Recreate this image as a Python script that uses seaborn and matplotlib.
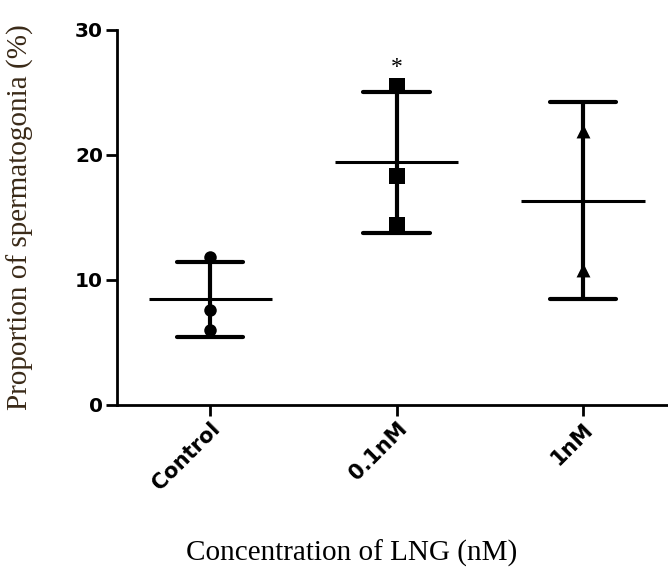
import matplotlib
matplotlib.use("Agg")
import matplotlib.pyplot as plt
import matplotlib.transforms as mtransforms
import seaborn as sns
import pandas as pd

categories = ["Control", "0.1nM", "1nM"]
control_vals = [11.8, 7.6, 6.0]
nm01_vals = [25.5, 18.3, 14.4]
nm1_vals = [21.9, 10.8]
markers = ["o", "s", "^"]
yticks = [0, 10, 20, 30]

df = pd.DataFrame({
    "group": ["Control"] * len(control_vals) + ["0.1nM"] * len(nm01_vals) + ["1nM"] * len(nm1_vals),
    "value": control_vals + nm01_vals + nm1_vals,
})

sns.set_theme(style="ticks")
fig = plt.figure(figsize=(6.68, 5.76), dpi=100)
ax = fig.add_axes([0.175, 0.297, 0.825, 0.651])

# SD error bars with caps
sns.pointplot(data=df, x="group", y="value", order=categories, errorbar="sd",
              capsize=0.355, linestyle="none", marker="", color="black",
              err_kws={"linewidth": 3.0}, ax=ax)

# individual points
for cat, mk, sz in zip(categories, markers, [9, 11, 10]):
    sub = df[df["group"] == cat]
    sns.stripplot(data=sub, x="group", y="value", order=categories, jitter=False,
                  marker=mk, size=sz, color="black", linewidth=0, ax=ax)

# mean lines
means = df.groupby("group")["value"].mean().reindex(categories)
for i, m in enumerate(means):
    ax.hlines(m, i - 0.33, i + 0.33, color="black", linewidth=2.2)

# significance star
ax.text(1, 27.0, "*", ha="center", va="center", fontsize=17, family="Liberation Serif",
        color="black")

ax.set_ylim(0, 30)
ax.set_xlim(-0.5, 2.456)
ax.set_yticks(yticks)
ax.set_yticklabels([str(t) for t in yticks], fontsize=14.5, fontweight="heavy",
                   family="DejaVu Sans", color="black")
ax.set_xticks(range(len(categories)))
ax.set_xticklabels(categories, rotation=45, ha="right", rotation_mode="anchor",
                   fontsize=15, fontweight="heavy", family="DejaVu Sans", color="black")
offset = mtransforms.ScaledTranslation(10 / 100, -6 / 100, fig.dpi_scale_trans)
for lbl in ax.get_xticklabels():
    lbl.set_transform(lbl.get_transform() + offset)

for s in ["top", "right"]:
    ax.spines[s].set_visible(False)
for s in ["left", "bottom"]:
    ax.spines[s].set_linewidth(2.0)
    ax.spines[s].set_color("black")
ax.tick_params(axis="both", length=8, width=2.0, color="black", labelcolor="black", pad=2)

ax.set_xlabel("Concentration of LNG (nM)", fontsize=21, family="Liberation Serif",
              color="black", va="center")
ax.xaxis.set_label_coords(0.4265, -0.395)
ax.set_ylabel("Proportion of spermatogonia (%)", fontsize=21, family="Liberation Serif",
              color="#3a2a18", va="center")
ax.yaxis.set_label_coords(-0.176, 0.5)

fig.savefig("out.png", dpi=100)
